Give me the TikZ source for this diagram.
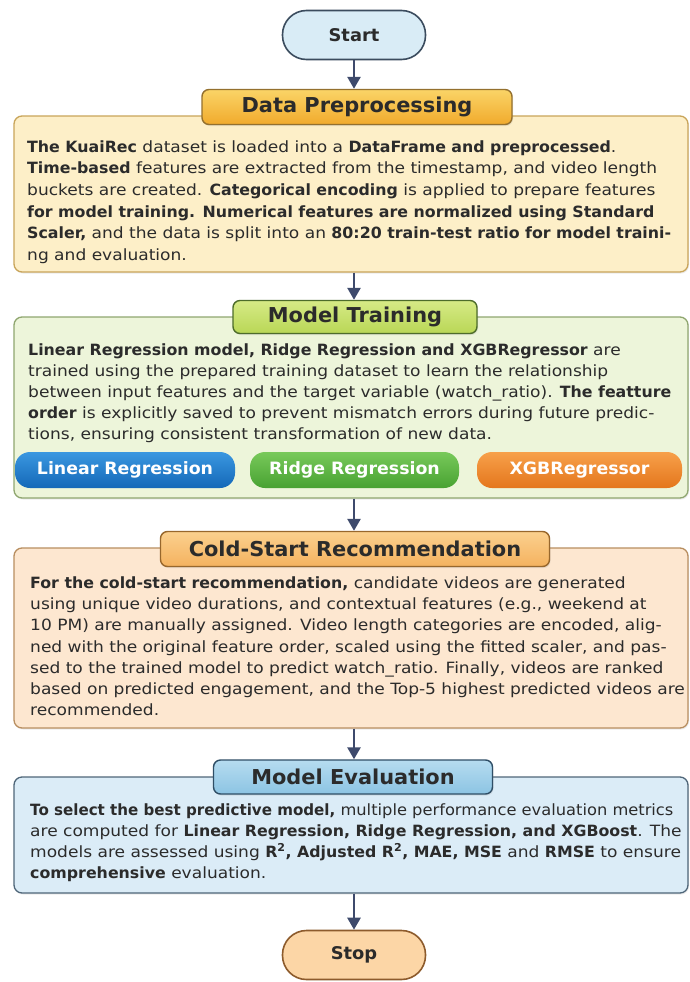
\documentclass[tikz,border=0pt]{standalone}
\usepackage{fontspec}
\setmainfont{DejaVu Sans}[UprightFeatures={FakeStretch=1.10}, BoldFeatures={FakeStretch=1.02}]
\usetikzlibrary{arrows.meta,shadows}
\definecolor{startfill}{HTML}{D9ECF6}
\definecolor{startdraw}{HTML}{3B4C5E}
\definecolor{arrowc}{HTML}{3E4A6C}
\definecolor{dptop}{HTML}{FAD467}
\definecolor{dpbot}{HTML}{F1AA2C}
\definecolor{dphd}{HTML}{94702E}
\definecolor{dpfill}{HTML}{FDEFC8}
\definecolor{dpdraw}{HTML}{C9A55A}
\definecolor{mttop}{HTML}{D6EA86}
\definecolor{mtbot}{HTML}{B9D756}
\definecolor{mthd}{HTML}{4D6C2A}
\definecolor{mtfill}{HTML}{EDF5DA}
\definecolor{mtdraw}{HTML}{8FA66F}
\definecolor{lrtop}{HTML}{3A97E0}
\definecolor{lrbot}{HTML}{1468B8}
\definecolor{rrtop}{HTML}{78C95A}
\definecolor{rrbot}{HTML}{48A232}
\definecolor{xgtop}{HTML}{F7A04A}
\definecolor{xgbot}{HTML}{E4761C}
\definecolor{cstop}{HTML}{FBD08E}
\definecolor{csbot}{HTML}{F4B25F}
\definecolor{cshd}{HTML}{98672C}
\definecolor{csfill}{HTML}{FDE7D0}
\definecolor{csdraw}{HTML}{B88E60}
\definecolor{metop}{HTML}{B6DCF0}
\definecolor{mebot}{HTML}{8CC4E3}
\definecolor{mehd}{HTML}{2F4E66}
\definecolor{mefill}{HTML}{DBECF7}
\definecolor{medraw}{HTML}{4F6679}
\definecolor{stopfill}{HTML}{FCD6A6}
\definecolor{stopdraw}{HTML}{8D5B2C}
\definecolor{txtc}{HTML}{2B2B2B}
\newcommand\tline[4]{\node[txt] (#1) at (#2,#3) {#4};}
\begin{document}
\begin{tikzpicture}[x=1pt,y=-1pt,
  term/.style={rectangle, rounded corners=24pt, line width=1.6pt, minimum width=143pt, minimum height=49pt, inner sep=0pt, text=txtc, font=\fontsize{17.5}{20}\selectfont\bfseries},
  hdr/.style={rectangle, rounded corners=7pt, line width=1.4pt, inner sep=0pt, minimum height=35pt, text=txtc, font=\fontsize{20.5}{24}\selectfont\bfseries, drop shadow={opacity=0.18, shadow xshift=1pt, shadow yshift=-1.5pt}},
  body/.style={rectangle, rounded corners=8pt, line width=1.3pt, inner sep=0pt, minimum width=674pt, drop shadow={opacity=0.15, shadow xshift=1pt, shadow yshift=-1.5pt}},
  txt/.style={anchor=base west, inner sep=0pt, text=txtc, font=\fontsize{15.5}{20}\selectfont},
  pill/.style={rectangle, rounded corners=15pt, inner sep=0pt, minimum height=36pt, text=white, font=\fontsize{17}{20}\selectfont\bfseries},
  flow/.style={-{Triangle[length=12pt,width=13pt]}, line width=2.6pt, draw=arrowc}]
\useasboundingbox (0,0) rectangle (690,982);
\fill[white] (0,0) rectangle (690,982);

% terminals
\node[term, fill=startfill, draw=startdraw] (start) at (354,35) {Start};
\node[term, fill=stopfill, draw=stopdraw] (stop) at (354,955) {Stop};

% bodies
\node[body, fill=dpfill, draw=dpdraw, minimum height=156pt] (dpbody) at (351,194) {};
\node[body, fill=mtfill, draw=mtdraw, minimum height=181pt] (mtbody) at (351,407.5) {};
\node[body, fill=csfill, draw=csdraw, minimum height=180pt] (csbody) at (351,638) {};
\node[body, fill=mefill, draw=medraw, minimum height=116pt] (mebody) at (351,835) {};

% headers
\node[hdr, top color=dptop, bottom color=dpbot, draw=dphd, minimum width=310pt] (dphdr) at (357,107) {Data Preprocessing};
\node[hdr, top color=mttop, bottom color=mtbot, draw=mthd, minimum width=244pt, minimum height=33pt] (mthdr) at (355,317) {Model Training};
\node[hdr, top color=cstop, bottom color=csbot, draw=cshd, minimum width=389pt] (cshdr) at (355,549) {Cold-Start Recommendation};
\node[hdr, top color=metop, bottom color=mebot, draw=mehd, minimum width=279pt, minimum height=34pt] (mehdr) at (353,777) {Model Evaluation};

% Data preprocessing text
\tline{dp1}{27}{152}{\textbf{The KuaiRec} dataset is loaded into a \textbf{DataFrame and preprocessed}.}
\tline{dp2}{27}{173}{\textbf{Time-based} features are extracted from the timestamp, and video length}
\tline{dp3}{27}{195}{buckets are created. \textbf{Categorical encoding} is applied to prepare features}
\tline{dp4}{27}{217}{\textbf{for model training. Numerical features are normalized using Standard}}
\tline{dp5}{27}{238}{\textbf{Scaler,} and the data is split into an \textbf{80:20 train-test ratio for model traini-}}
\tline{dp6}{27}{260}{ng and evaluation.}

% Model training text
\tline{mt1}{28}{355}{\textbf{Linear Regression model, Ridge Regression and XGBRegressor} are}
\tline{mt2}{28}{376}{trained using the prepared training dataset to learn the relationship}
\tline{mt3}{28}{397}{between input features and the target variable (watch\_ratio). \textbf{The featture}}
\tline{mt4}{28}{418}{\textbf{order} is explicitly saved to prevent mismatch errors during future predic-}
\tline{mt5}{28}{439}{tions, ensuring consistent transformation of new data.}

% pills
\node[pill, top color=lrtop, bottom color=lrbot, minimum width=220pt] (lr) at (125,470) {Linear Regression};
\node[pill, top color=rrtop, bottom color=rrbot, minimum width=209pt] (rr) at (354.5,470) {Ridge Regression};
\node[pill, top color=xgtop, bottom color=xgbot, minimum width=205pt] (xgb) at (579.5,470) {XGBRegressor};

% Cold-start text
\tline{cs1}{30}{588}{\textbf{For the cold-start recommendation,} candidate videos are generated}
\tline{cs2}{30}{609}{using unique video durations, and contextual features (e.g., weekend at}
\tline{cs3}{30}{630}{10 PM) are manually assigned. Video length categories are encoded, alig-}
\tline{cs4}{30}{652}{ned with the original feature order, scaled using the fitted scaler, and pas-}
\tline{cs5}{30}{673}{sed to the trained model to predict watch\_ratio. Finally, videos are ranked}
\tline{cs6}{30}{694}{based on predicted engagement, and the Top-5 highest predicted videos are}
\tline{cs7}{30}{715}{recommended.}

% Model evaluation text
\tline{me1}{30}{815}{\scalebox{0.955}[1]{\textbf{To select the best predictive model,} multiple performance evaluation metrics}}
\tline{me2}{30}{836}{are computed for \textbf{Linear Regression, Ridge Regression, and XGBoost}. The}
\tline{me3}{30}{857}{models are assessed using \textbf{R\textsuperscript{2}, Adjusted R\textsuperscript{2}, MAE, MSE} and \textbf{RMSE} to ensure}
\tline{me4}{30}{878}{\textbf{comprehensive} evaluation.}

% arrows
\draw[flow] (start.south) -- (start.south |- dphdr.north);
\draw[flow] (dpbody.south -| start.south) -- (mthdr.north -| start.south);
\draw[flow] (mtbody.south -| start.south) -- (cshdr.north -| start.south);
\draw[flow] (csbody.south -| start.south) -- (mehdr.north -| start.south);
\draw[flow] (mebody.south -| stop.north) -- (stop.north);
\end{tikzpicture}
\end{document}
